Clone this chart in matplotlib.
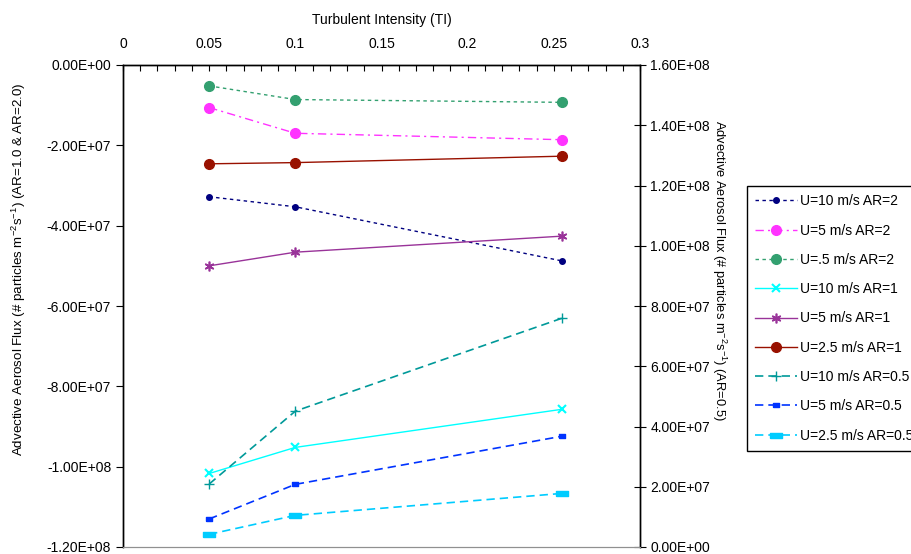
import numpy as np
import matplotlib.pyplot as plt
from matplotlib.ticker import MultipleLocator, FuncFormatter

plt.rcParams['font.family'] = ['Liberation Sans', 'DejaVu Sans']
plt.rcParams['mathtext.fontset'] = 'custom'
plt.rcParams['mathtext.rm'] = 'Liberation Sans'
plt.rcParams['mathtext.it'] = 'Liberation Sans:italic'
plt.rcParams['font.size'] = 10

# ---- data ---------------------------------------------------------------
ti = [0.05, 0.1, 0.255]

# left axis (AR=2, AR=1)
u10_ar2 = [-32.8e6, -35.3e6, -48.8e6]
u5_ar2 = [-10.6e6, -17.0e6, -18.6e6]
u05_ar2 = [-5.2e6, -8.6e6, -9.3e6]
u10_ar1 = [-101.7e6, -95.2e6, -85.7e6]
u5_ar1 = [-50.0e6, -46.6e6, -42.6e6]
u25_ar1 = [-24.6e6, -24.3e6, -22.7e6]

# right axis (AR=0.5)
u10_ar05 = [20.9e6, 45.1e6, 76.0e6]
u5_ar05 = [9.3e6, 20.8e6, 36.8e6]
u25_ar05 = [4.2e6, 10.5e6, 17.8e6]

labels = ["U=10 m/s AR=2", "U=5 m/s AR=2", "U=.5 m/s AR=2",
          "U=10 m/s AR=1", "U=5 m/s AR=1", "U=2.5 m/s AR=1",
          "U=10 m/s AR=0.5", "U=5 m/s AR=0.5", "U=2.5 m/s AR=0.5"]

rect = [(-1, -0.45), (1, -0.45), (1, 0.45), (-1, 0.45), (-1, -0.45)]

fig = plt.figure(figsize=(9.12, 5.54), dpi=100)
ax = fig.add_axes([123 / 912, 1 - 547 / 554, 517 / 912, 482 / 554])
ax2 = ax.twinx()

h = []
h += ax.plot(ti, u10_ar2, color='#000080', ls=(0, (2.5, 2.5)), lw=1,
             marker='o', ms=4, label=labels[0])
h += ax.plot(ti, u5_ar2, color='#FF33FF', ls=(0, (6, 3, 1.5, 3)), lw=1,
             marker='o', ms=7, label=labels[1])
h += ax.plot(ti, u05_ar2, color='#33A070', ls=(0, (2.5, 2.5)), lw=1,
             marker='o', ms=7, label=labels[2])
h += ax.plot(ti, u10_ar1, color='#00FFFF', ls='-', lw=1,
             marker='x', ms=6, mew=1.5, label=labels[3])
h += ax.plot(ti, u5_ar1, color='#993399', ls='-', lw=1,
             marker=(6, 2, 0), ms=7, mew=1.2, label=labels[4])
h += ax.plot(ti, u25_ar1, color='#991100', ls='-', lw=1,
             marker='o', ms=7, label=labels[5])
h += ax2.plot(ti, u10_ar05, color='#009999', ls=(0, (5, 3)), lw=1.2,
              marker='+', ms=7, mew=1.0, label=labels[6])
h += ax2.plot(ti, u5_ar05, color='#0033FF', ls=(0, (5, 3)), lw=1.2,
              marker=rect, ms=5, label=labels[7])
h += ax2.plot(ti, u25_ar05, color='#00CCFF', ls=(0, (5, 3)), lw=1.2,
              marker=rect, ms=8, label=labels[8])

sci = FuncFormatter(lambda v, p: f"{v:.2E}")

# x axis on top
ax.set_xlim(0, 0.3)
ax.xaxis.set_ticks_position('top')
ax.xaxis.set_label_position('top')
ax.xaxis.set_major_locator(MultipleLocator(0.05))
ax.xaxis.set_minor_locator(MultipleLocator(0.01))
ax.xaxis.set_major_formatter(FuncFormatter(lambda v, p: f"{v:g}"))
ax.tick_params(axis='x', which='both', direction='in', length=4, width=0.8,
               pad=10, labelsize=10)
ax.set_xlabel("Turbulent Intensity (TI)", fontsize=10)
ax.xaxis.set_label_coords(0.5, 1.085)

ax.set_ylim(-1.2e8, 0)
ax.yaxis.set_major_locator(MultipleLocator(2e7))
ax.yaxis.set_major_formatter(sci)
ax.tick_params(axis='y', direction='out', length=5, width=0.8, labelsize=10)
ax.set_ylabel("Advective Aerosol Flux (# particles m$^{-2}$s$^{-1}$) (AR=1.0 & AR=2.0)",
              fontsize=9.6, va='center')
ax.yaxis.set_label_coords(-0.201, 0.577)

ax2.set_ylim(0, 1.6e8)
ax2.yaxis.set_major_locator(MultipleLocator(2e7))
ax2.yaxis.set_major_formatter(sci)
ax2.tick_params(axis='y', direction='inout', length=8, width=0.8, labelsize=10)
ax2.set_ylabel("Advective Aerosol Flux (# particles m$^{-2}$s$^{-1}$) (AR=0.5)",
               fontsize=9.3, rotation=270, va='center')
ax2.yaxis.set_label_coords(1.153, 0.573)

for a in (ax, ax2):
    a.spines['bottom'].set_color('#909090')
    a.spines['top'].set_linewidth(1.0)
    a.spines['left'].set_linewidth(1.0)
    a.spines['right'].set_linewidth(1.0)

leg = fig.legend(handles=h, loc='upper left',
                 bbox_to_anchor=(747 / 912, 1 - 186 / 554),
                 frameon=True, fancybox=False, edgecolor='black',
                 framealpha=1, fontsize=10, handlelength=3.0,
                 labelspacing=1.1, borderpad=0.6, handletextpad=0.2,
                 borderaxespad=0)
leg.get_frame().set_linewidth(1.0)

fig.savefig("out.png", dpi=100)
